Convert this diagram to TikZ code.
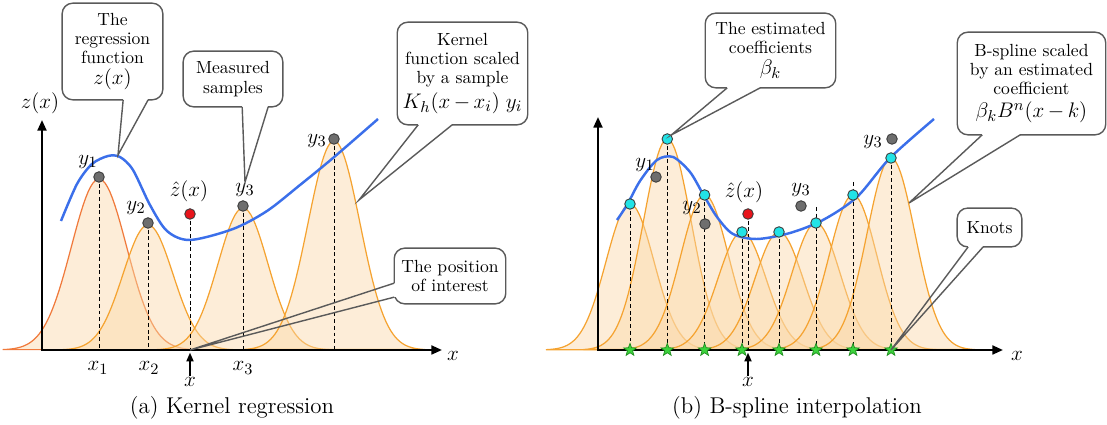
\documentclass[tikz,border=0pt]{standalone}
\usepackage{amsmath}
\usetikzlibrary{arrows.meta,calc,shapes.geometric}
\definecolor{krBlue}   {HTML}{3B6FEA}
\definecolor{krOrange} {HTML}{F5A331}
\definecolor{krRust}   {HTML}{F07A3C}
\definecolor{krPeach}  {HTML}{FAD8A8}
\definecolor{krCyan}   {HTML}{22E3E6}
\definecolor{krGray}   {HTML}{6E6E6E}
\definecolor{krRed}    {HTML}{E8141B}
\definecolor{krGreen}  {HTML}{3CD23C}
\definecolor{krGreenDk}{HTML}{1F8F1F}
\definecolor{krLine}   {HTML}{5A5A5A}
\definecolor{krDark}   {HTML}{3A3A3A}
\newcommand{\callfont}{\fontsize{10}{11}\selectfont}
\newcommand{\calmath}{\fontsize{13}{15}\selectfont}
% bell shaped bump: centre, height, width (pixels)
\newcommand{\gbump}[4][krbump]{\draw[#1] plot[domain=#2-3.5*#4:#2+3.5*#4,samples=80]
  (\x,{350-#3*exp(-((\x-#2)^2)/(2*#4*#4))}) -- cycle;}
% callout pointer: anchor, base offsets, inward shift, tip
\newcommand{\pointer}[5]{\fill[white] ($(#1)+#2+#4$) rectangle ($(#1)+#3-#4$);
  \draw[callline] ($(#1)+#2$) -- (#5) -- ($(#1)+#3$);}

\begin{document}
\begin{tikzpicture}[x=0.02cm,y=-0.02cm,font=\fontsize{13}{15}\selectfont,
    axline/.style={line width=1.3pt,{Triangle[length=6pt,width=5pt]}-{Triangle[length=6pt,width=5pt]}},
    krbump/.style={draw=krOrange,line width=0.7pt,fill=krPeach,fill opacity=0.45},
    guide/.style={dashed,dash pattern=on 2.2pt off 1.6pt,line width=0.55pt},
    zcurve/.style={krBlue,line width=1.4pt},
    ydot/.style={circle,draw=krDark,fill=krGray,line width=0.5pt,minimum size=6pt,inner sep=0pt},
    cdot/.style={ydot,fill=krCyan},
    qdot/.style={ydot,fill=krRed},
    knot/.style={star,star points=5,star point ratio=2.4,draw=krGreenDk,fill=krGreen,
                 line width=0.4pt,minimum size=7.5pt,inner sep=0pt},
    bubble/.style={draw=krLine,fill=white,rounded corners=6pt,line width=0.8pt,align=center,
                   inner sep=1pt,outer sep=0pt,font=\callfont},
    callline/.style={krLine,line width=0.8pt},
    qarrow/.style={-{Triangle[length=5pt,width=4pt]},line width=1pt,shorten >=1.5pt},
    lab/.style={inner sep=0.5pt}]

  \useasboundingbox (0,0) rectangle (1107,425);

  % ---------- (a) kernel regression
  \coordinate (oa) at (42,350);  \coordinate (xa) at (442,350); \coordinate (ya) at (42,120);
  \coordinate (p1) at (99,177);  \coordinate (a1) at (99,350);
  \coordinate (p2) at (148,223); \coordinate (a2) at (148,350);
  \coordinate (p3) at (243,206); \coordinate (a3) at (243,350);
  \coordinate (p4) at (334,139); \coordinate (a4) at (334,350);
  \coordinate (pq) at (190,214); \coordinate (aq) at (190,350);

  \gbump[krbump,draw=krRust]{99}{171}{27.5}
  \gbump{148}{125}{25}
  \gbump{243}{142}{25}
  \gbump{334}{209}{26}

  \draw[guide] (p1) -- (a1);
  \draw[guide] (p2) -- (a2);
  \draw[guide] (p3) -- (a3);
  \draw[guide] (p4) -- (a4);
  \draw[guide] (pq) -- (aq);
  \draw[axline] (ya) -- (oa) -- (xa);

  \draw[zcurve] plot[smooth] coordinates {(61,221) (77,184) (92,164) (108,156) (120,157)
    (133,170) (150,205) (167,231) (190,240) (233,229) (267,211) (300,185) (333,158) (378,119)};

  \node[ydot] (y1) at (p1) {};
  \node[ydot] (y2) at (p2) {};
  \node[ydot] (y3) at (p3) {};
  \node[ydot] (y4) at (p4) {};
  \node[qdot] (zq) at (pq) {};

  \node[lab] (ly1) at (88,162) {$y_1$};
  \node[lab] (ly2) at (136,208) {$y_2$};
  \node[lab] (lzq) at (189,191) {$\hat{z}(x)$};
  \node[lab] (ly3) at (245,190) {$y_3$};
  \node[lab] (ly4) at (317,141) {$y_3$};
  \node[lab] (lza) at (40,103) {$z(x)$};
  \node[lab] (lx1) at (98,368) {$x_1$};
  \node[lab] (lx2) at (149,368) {$x_2$};
  \node[lab] (lx3) at (243,368) {$x_3$};
  \node[lab] (lxa) at (453,356) {$x$};
  \node[lab] (lxq) at (190,382) {$x$};
  \draw[qarrow] (lxq) -- (aq);

  \coordinate (tipreg) at (118,155);
  \coordinate (tipkern) at (359,200);
  \node[bubble,minimum width=57.3pt,minimum height=55pt] (reg) at (112.5,51.5)
    {The\\regression\\function\\[1pt]{\calmath$z(x)$}};
  \pointer{reg.south west}{(61,0)}{(86,0)}{(0,0.9pt)}{tipreg}
  \node[bubble,minimum width=56.7pt,minimum height=31.7pt] (meas) at (233,79)
    {Measured\\samples};
  \pointer{meas.south west}{(59,0)}{(85,0)}{(0,0.9pt)}{ly3.north}
  \node[bubble,minimum width=74.3pt,minimum height=58.4pt] (kern) at (462.5,73.5)
    {Kernel\\function scaled\\by a sample\\[2pt]{\calmath$K_h(x\,{-}\,x_i)\;y_i$}};
  \pointer{kern.south west}{(21,0)}{(55,0)}{(0,0.9pt)}{tipkern}
  \node[bubble,minimum width=63.5pt,minimum height=31.7pt] (pos) at (450,276)
    {The position\\of interest};
  \pointer{pos.north west}{(0,35)}{(0,49)}{(0.9pt,0)}{aq}

  \node (capa) at (232,408) {(a) Kernel regression};

  % ---------- (b) B-spline interpolation
  \coordinate (ob) at (598,350); \coordinate (xb) at (1003,350); \coordinate (yb) at (598,117);
  \coordinate (k1) at (630,350);   \coordinate (t1) at (630,204);
  \coordinate (k2) at (667.3,350); \coordinate (t2) at (667.3,139);
  \coordinate (k3) at (704.6,350); \coordinate (t3) at (704.6,195);
  \coordinate (k4) at (742,350);   \coordinate (t4) at (742,232);
  \coordinate (k5) at (779,350);   \coordinate (t5) at (779,232);
  \coordinate (k6) at (816,350);   \coordinate (t6) at (816,207);
  \coordinate (k7) at (853,350);   \coordinate (t7) at (853,182);
  \coordinate (k8) at (891,350);   \coordinate (t8) at (891,158);
  \coordinate (rq) at (748,214);   \coordinate (bq) at (748,350);

  \gbump{630}{146}{24}
  \gbump{667.3}{211}{24}
  \gbump{704.6}{155}{24}
  \gbump{742}{118}{24}
  \gbump{779}{118}{24}
  \gbump{816}{127}{24}
  \gbump{853}{155}{24}
  \gbump{891}{192}{24}

  \draw[guide] (t1) -- (k1);
  \draw[guide] (t2) -- (k2);
  \draw[guide] (t3) -- (k3);
  \draw[guide] (t4) -- (k4);
  \draw[guide] (t5) -- (k5);
  \draw[guide] (t6) -- (k6);
  \draw[guide] (t7) -- (k7);
  \draw[guide] (t8) -- (k8);
  \draw[guide] (rq) -- (bq);
  \draw[axline] (yb) -- (ob) -- (xb);

  \draw[zcurve] plot[smooth] coordinates {(617,220) (627,205) (640,181) (657,160) (673,157)
    (690,172) (703,194) (717,217) (733,234) (757,239) (790,233) (823,220) (857,197)
    (890,158) (934,119)};

  \node[ydot] (r1) at (656,177) {};
  \node[ydot] (r2) at (705,224) {};
  \node[ydot] (r3) at (801,206) {};
  \node[ydot] (r4) at (892,139) {};
  \node[qdot] (rz) at (rq) {};
  \node[cdot] (c1) at (t1) {};
  \node[cdot] (c2) at (t2) {};
  \node[cdot] (c3) at (t3) {};
  \node[cdot] (c4) at (t4) {};
  \node[cdot] (c5) at (t5) {};
  \node[cdot] (c6) at (816,223) {};
  \node[cdot] (c7) at (853,195) {};
  \node[cdot] (c8) at (t8) {};
  \node[knot] (s1) at (k1) {};
  \node[knot] (s2) at (k2) {};
  \node[knot] (s3) at (k3) {};
  \node[knot] (s4) at (k4) {};
  \node[knot] (s5) at (k5) {};
  \node[knot] (s6) at (k6) {};
  \node[knot] (s7) at (k7) {};
  \node[knot] (s8) at (k8) {};

  \node[lab] (ry1) at (645,165) {$y_1$};
  \node[lab] (ry2) at (692,208) {$y_2$};
  \node[lab] (rzq) at (744,192) {$\hat{z}(x)$};
  \node[lab] (ry3) at (801,190) {$y_3$};
  \node[lab] (ry4) at (873,142) {$y_3$};
  \node[lab] (rxa) at (1017,356) {$x$};
  \node[lab] (rxq) at (748,382) {$x$};
  \draw[qarrow] (rxq) -- (bq);

  \coordinate (tipbspl) at (909,203);
  \node[bubble,minimum width=74.3pt,minimum height=42.5pt] (coef) at (770.5,50.5)
    {The estimated\\coefficients\\[1pt]{\calmath$\beta_k$}};
  \pointer{coef.south west}{(22,0)}{(55,0)}{(0,0.9pt)}{c2.north east}
  \node[bubble,minimum width=84.5pt,minimum height=58.4pt] (bspl) at (1031.5,83.5)
    {B-spline scaled\\by an estimated\\coefficient\\[2pt]{\calmath$\beta_kB^n(x\,{-}\,k)$}};
  \pointer{bspl.south west}{(25,0)}{(63,0)}{(0,0.9pt)}{tipbspl}
  \node[bubble,minimum width=36.8pt,minimum height=22.1pt] (knots) at (989.5,227.5)
    {Knots};
  \pointer{knots.south west}{(11,0)}{(26,0)}{(0,0.9pt)}{k8}

  \node (capb) at (797,408) {(b) B-spline interpolation};
\end{tikzpicture}
\end{document}
